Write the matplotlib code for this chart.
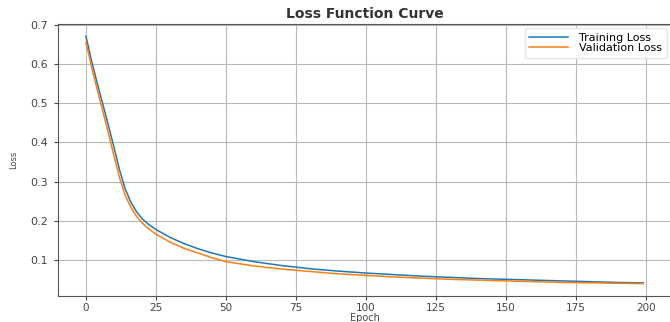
import matplotlib
matplotlib.use("Agg")
import matplotlib.pyplot as plt

# loss values read per epoch (denser sampling where the curve drops fast)
epochs = [0, 1, 2, 4, 6, 8, 10, 12, 14, 16, 18, 20, 22, 25, 30, 35, 40, 45, 50,
          60, 70, 80, 90, 100, 110, 120, 130, 140, 150, 160, 170, 180, 190, 199]
train_loss = [0.670, 0.640, 0.608, 0.552, 0.498, 0.444, 0.388, 0.330, 0.282, 0.248,
              0.224, 0.206, 0.193, 0.178, 0.158, 0.142, 0.129, 0.118, 0.109,
              0.096, 0.086, 0.078, 0.072, 0.067, 0.063, 0.059, 0.056, 0.053,
              0.051, 0.049, 0.047, 0.045, 0.043, 0.042]
val_loss = [0.655, 0.625, 0.592, 0.535, 0.480, 0.424, 0.366, 0.310, 0.265, 0.235,
            0.212, 0.195, 0.182, 0.166, 0.146, 0.130, 0.118, 0.106, 0.096,
            0.085, 0.077, 0.071, 0.065, 0.061, 0.057, 0.054, 0.051, 0.049,
            0.047, 0.045, 0.043, 0.042, 0.041, 0.040]

fig = plt.figure(figsize=(6.70, 3.22), dpi=100)
ax = fig.add_axes([0.0866, 0.0807, 0.915, 0.845])

ax.plot(epochs, train_loss, color='tab:blue', lw=1.1, label='Training Loss')
ax.plot(epochs, val_loss, color='tab:orange', lw=1.1, label='Validation Loss')

ax.set_title('Loss Function Curve', fontsize=10, fontweight='bold', color='#333333', pad=4)
ax.set_xlabel('Epoch', fontsize=7, color='#444444', labelpad=0)
ax.set_ylabel('Loss', fontsize=6, color='#444444', labelpad=9)
ax.tick_params(labelsize=8, colors='#444444', length=3, pad=4)
ax.tick_params(axis='x', labelsize=7.5, pad=2)
ax.grid(True, color='#b8b8b8', lw=0.8)
for s in ax.spines.values():
    s.set_color('#555555')

ax.legend(loc='upper right', fontsize=8, frameon=True, borderaxespad=0.4,
          handlelength=3.5, handletextpad=1.0, labelspacing=0.05,
          edgecolor='#e6e6e6', framealpha=1)

fig.savefig('out.png', dpi=100)
